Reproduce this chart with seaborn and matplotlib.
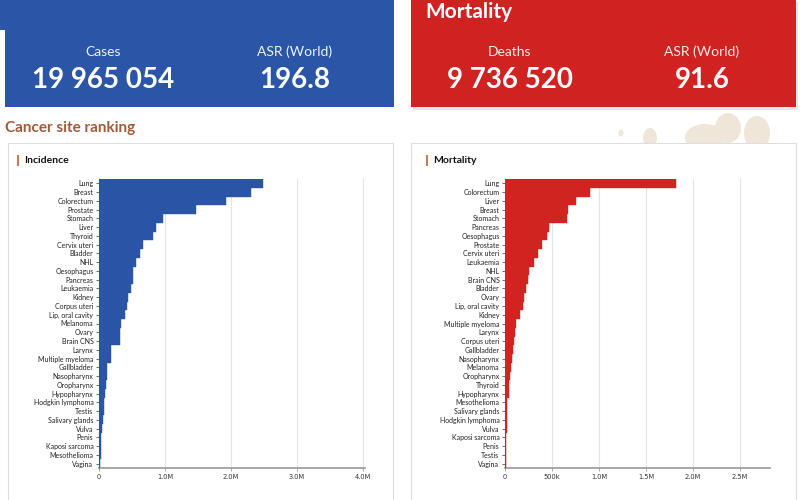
import matplotlib
matplotlib.use("Agg")
import matplotlib.pyplot as plt
from matplotlib.patches import Rectangle, Ellipse
from matplotlib.ticker import FixedLocator, FixedFormatter
import seaborn as sns
import pandas as pd

# ---------------- data ----------------
inc_sites = ["Lung", "Breast", "Colorectum", "Prostate", "Stomach", "Liver", "Thyroid",
             "Cervix uteri", "Bladder", "NHL", "Oesophagus", "Pancreas", "Leukaemia",
             "Kidney", "Corpus uteri", "Lip, oral cavity", "Melanoma", "Ovary", "Brain CNS",
             "Larynx", "Multiple myeloma", "Gallbladder", "Nasopharynx", "Oropharynx",
             "Hypopharynx", "Hodgkin lymphoma", "Testis", "Salivary glands", "Vulva",
             "Penis", "Kaposi sarcoma", "Mesothelioma", "Vagina"]
inc_values = [2480675, 2308897, 1926118, 1467854, 968350, 865269, 821214,
              661021, 613791, 553010, 511054, 510992, 486777,
              434840, 420368, 389846, 331722, 324603, 321731,
              188960, 187952, 122491, 120434, 106316,
              86257, 82409, 72031, 55083, 47336,
              37699, 35360, 30618, 18819]

mort_sites = ["Lung", "Colorectum", "Liver", "Breast", "Stomach", "Pancreas", "Oesophagus",
              "Prostate", "Cervix uteri", "Leukaemia", "NHL", "Brain CNS", "Bladder",
              "Ovary", "Lip, oral cavity", "Kidney", "Multiple myeloma", "Larynx",
              "Corpus uteri", "Gallbladder", "Nasopharynx", "Melanoma", "Oropharynx",
              "Thyroid", "Hypopharynx", "Mesothelioma", "Salivary glands",
              "Hodgkin lymphoma", "Vulva", "Kaposi sarcoma", "Penis", "Testis", "Vagina"]
mort_values = [1817469, 903859, 757948, 665684, 659853, 467409, 445129,
               397430, 348189, 305033, 250475, 248500, 220349,
               206956, 188438, 155953, 121388, 103670,
               97723, 89055, 73482, 58667, 52192,
               47485, 41963, 25416, 22933,
               22733, 18579, 15672, 13211, 9056, 8240]

inc_ticks = [0, 1.0e6, 2.0e6, 3.0e6, 4.0e6]
inc_tick_labels = ["0", "1.0M", "2.0M", "3.0M", "4.0M"]
mort_ticks = [0, 0.5e6, 1.0e6, 1.5e6, 2.0e6, 2.5e6]
mort_tick_labels = ["0", "500k", "1.0M", "1.5M", "2.0M", "2.5M"]

headline_labels = ["Cases", "ASR (World)", "Deaths", "ASR (World)"]
headline_values = ["19 965 054", "196.8", "9 736 520", "91.6"]

BLUE = "#2b56a8"
RED = "#cf2221"
BLUE_BAR = "#2a55a6"
RED_BAR = "#d02420"
BROWN = "#a05a3c"

sns.set_theme(style="white")
plt.rcParams["font.family"] = ["Lato", "DejaVu Sans"]

W, H = 800, 500
fig = plt.figure(figsize=(8, 5), dpi=100)
fig.patch.set_facecolor("white")


def fx(px):
    return px / W


def fy(py):
    return 1 - py / H


def frect(x0, y0, x1, y1, **kw):
    r = Rectangle((fx(x0), fy(y1)), fx(x1) - fx(x0), fy(y0) - fy(y1),
                  transform=fig.transFigure, **kw)
    fig.patches.append(r)
    return r


# header boxes
frect(0, 0, 5, 30, facecolor=BLUE, edgecolor="none", zorder=0)
frect(5, 0, 394, 107, facecolor=BLUE, edgecolor="none", zorder=0)
frect(413, 2, 798, 110, facecolor="#e8e8e8", edgecolor="none", zorder=0)
frect(411, 0, 796, 107, facecolor=RED, edgecolor="none", zorder=0)

fig.text(fx(425), fy(1.5), "Mortality", color="white", fontsize=15, fontweight="bold",
         ha="left", va="top")

for cx, lab, val in [(103, headline_labels[0], headline_values[0]),
                     (295, headline_labels[1], headline_values[1]),
                     (510, headline_labels[2], headline_values[2]),
                     (702, headline_labels[3], headline_values[3])]:
    fig.text(fx(cx), fy(52), lab, color="white", fontsize=10, ha="center", va="center",
             alpha=0.92)
    fig.text(fx(cx), fy(80), val, color="white", fontsize=20, fontweight="bold",
             ha="center", va="center")

fig.text(fx(5), fy(128), "Cancer site ranking", color=BROWN, fontsize=11,
         fontweight="bold", ha="left", va="center")

# decorative blobs
for (cx, cy, w, h) in [(621, 133, 5, 7), (650, 138, 14, 20), (705, 138, 40, 28),
                       (728, 128, 26, 30), (757, 133, 26, 34)]:
    e = Ellipse((fx(cx), fy(cy)), fx(w), fy(0) - fy(h), transform=fig.transFigure,
                facecolor="#efe6d9", edgecolor="none", zorder=0)
    fig.patches.append(e)

# panels
frect(8, 143, 393, 505, facecolor="white", edgecolor="#dedede", linewidth=0.8, zorder=1)
frect(411, 143, 796, 505, facecolor="white", edgecolor="#dedede", linewidth=0.8, zorder=1)
for x0, title in [(17, "Incidence"), (426, "Mortality")]:
    frect(x0, 155, x0 + 1.6, 166, facecolor="#c97a4e", edgecolor="none", zorder=2)
    fig.text(fx(x0 + 7), fy(160.5), title, color="#111111", fontsize=7.5,
             fontweight="bold", ha="left", va="center", zorder=3)

inc_df = pd.DataFrame({"site": inc_sites, "value": inc_values})
mort_df = pd.DataFrame({"site": mort_sites, "value": mort_values})

ax1 = fig.add_axes([fx(99), fy(468), fx(365) - fx(99), fy(179) - fy(468)])
ax2 = fig.add_axes([fx(505), fy(468), fx(770) - fx(505), fy(179) - fy(468)])

for ax, df, color, ticks, labels, xmax in [
        (ax1, inc_df, BLUE_BAR, inc_ticks, inc_tick_labels, 4.03e6),
        (ax2, mort_df, RED_BAR, mort_ticks, mort_tick_labels, 2.82e6)]:
    ax.set_zorder(3)
    ax.set_facecolor("none")
    sns.barplot(data=df, x="value", y="site", color=color, saturation=1, width=1.0,
                orient="h", ax=ax, zorder=3, linewidth=0, edgecolor="none")
    for p in ax.patches:
        p.set_linewidth(0.3)
        p.set_edgecolor(color)
    ax.set_xlim(0, xmax)
    ax.xaxis.set_major_locator(FixedLocator(ticks))
    ax.xaxis.set_major_formatter(FixedFormatter(labels))
    ax.grid(axis="x", color="#e4e4e4", linewidth=0.8, zorder=0)
    ax.set_axisbelow(True)
    ax.set_xlabel("")
    ax.set_ylabel("")
    for s in ["top", "right"]:
        ax.spines[s].set_visible(False)
    ax.spines["left"].set_color("#555555")
    ax.spines["left"].set_linewidth(0.8)
    ax.spines["bottom"].set_color("#9a9a9a")
    ax.spines["bottom"].set_linewidth(1.2)
    ax.tick_params(axis="y", length=2.5, width=0.6, color="#555555", labelsize=5,
                   pad=1.5, left=True, labelcolor="#222222")
    ax.tick_params(axis="x", length=2.5, width=0.6, color="#9a9a9a", labelsize=5,
                   pad=2, bottom=True, labelcolor="#333333")
    for t in ax.get_xticklabels():
        t.set_fontfamily(["DejaVu Sans"])
        t.set_fontsize(4.8)

fig.savefig("out.png", dpi=100, facecolor="white")
